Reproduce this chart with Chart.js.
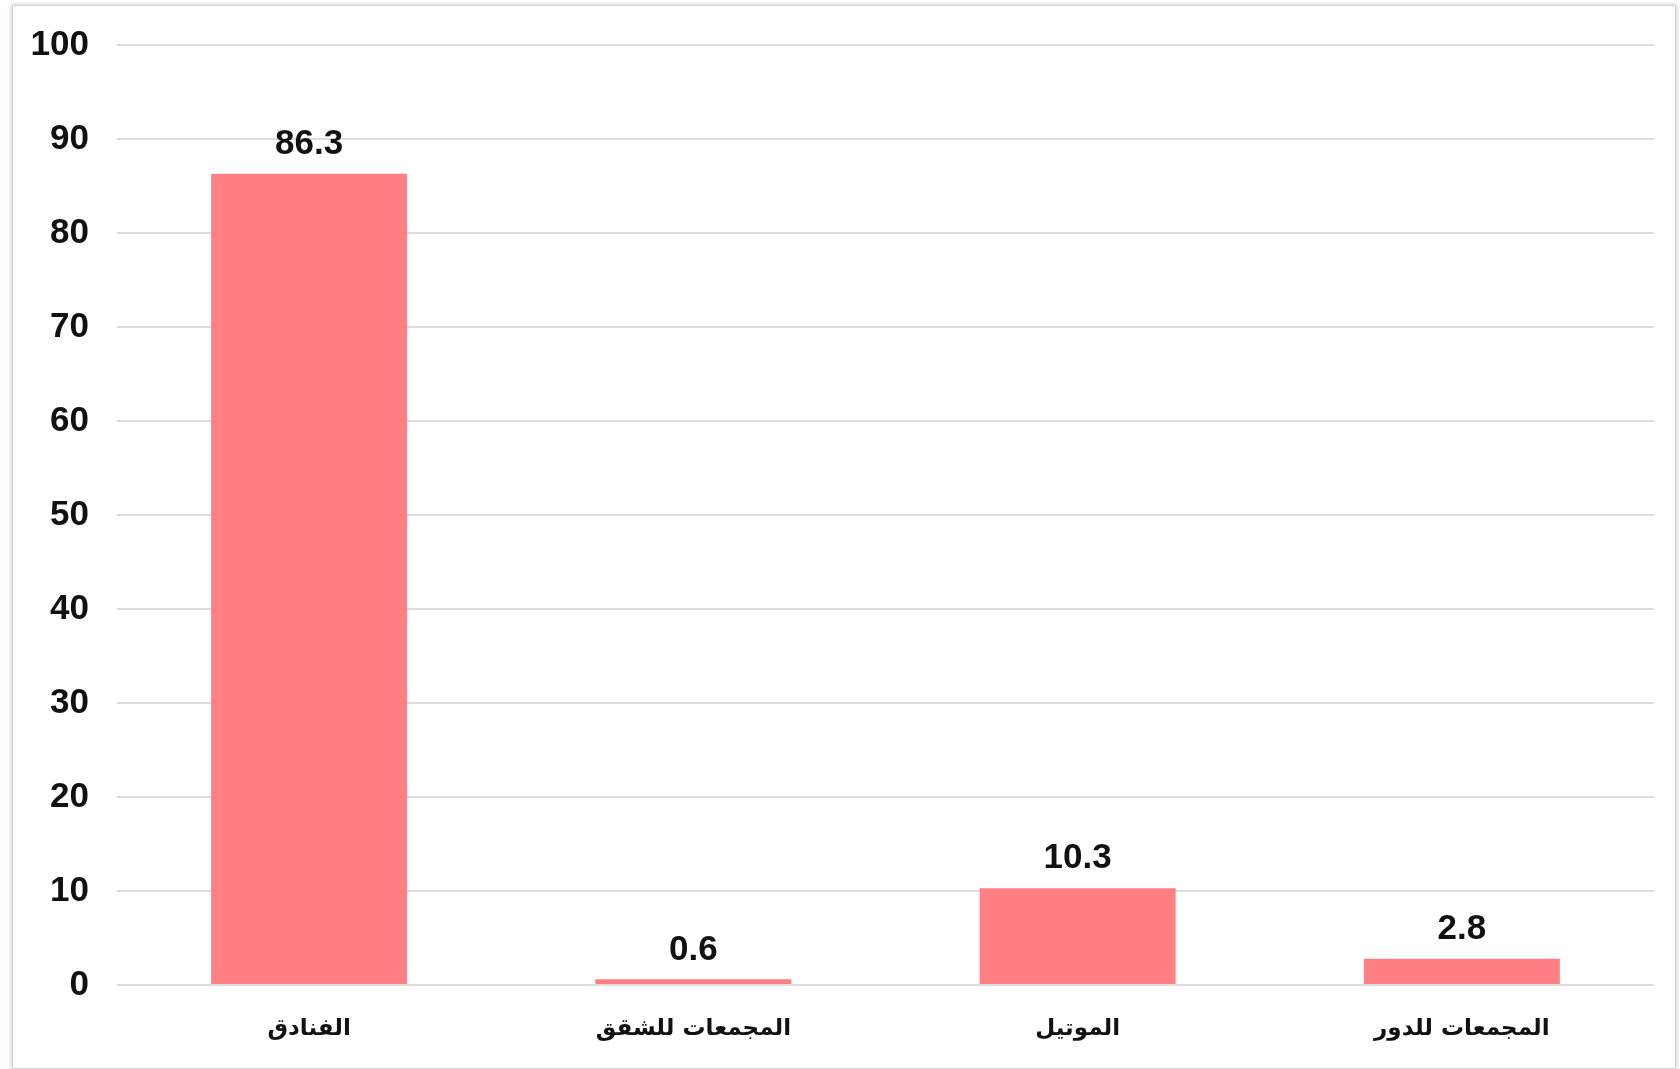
<!DOCTYPE html>
<html>
<head>
<meta charset="utf-8">
<script src="https://cdn.jsdelivr.net/npm/chart.js@4.4.1/dist/chart.umd.min.js"></script>
<style>
  html, body { margin: 0; padding: 0; background: #fff; }
  .frame {
    position: absolute; left: 12px; top: 5px;
    width: 1662px; height: 1062px;
    border: 1px solid #d4d4d4;
    box-shadow: 0 0 5px rgba(0,0,0,0.25);
    background: #fff;
  }
</style>
</head>
<body>
<div class="frame"><canvas id="accChart"></canvas></div>
<script>
// accommodation types (Arabic) and their share (%)
const categories = ['الفنادق', 'المجمعات للشقق', 'الموتيل', 'المجمعات للدور'];
const shares = [86.3, 0.6, 10.3, 2.8];
const yTicks = [0, 10, 20, 30, 40, 50, 60, 70, 80, 90, 100];

const numFont = '"Liberation Sans Narrow", "Arial Narrow", "Liberation Sans", sans-serif';
const arFont = '"DejaVu Sans", "Noto Sans", sans-serif';

// draws the value above each bar
const valueLabels = {
  id: 'valueLabels',
  afterDatasetsDraw(chart) {
    const ctx = chart.ctx;
    const meta = chart.getDatasetMeta(0);
    ctx.save();
    ctx.font = 'bold 35px ' + numFont;
    ctx.fillStyle = '#111';
    ctx.textAlign = 'center';
    ctx.textBaseline = 'bottom';
    meta.data.forEach((bar, i) => {
      ctx.fillText(shares[i].toFixed(1), bar.x, bar.y - 12);
    });
    ctx.restore();
  }
};

new Chart('accChart', {
  type: 'bar',
  data: {
    labels: categories,
    datasets: [{
      data: shares,
      backgroundColor: '#FF7F82',
      borderWidth: 0,
      categoryPercentage: 1.0,
      barPercentage: 0.51
    }]
  },
  options: {
    responsive: true,
    maintainAspectRatio: false,
    animation: false,
    layout: { padding: { top: 39, right: 21, left: 0, bottom: 0 } },
    plugins: {
      legend: { display: false },
      tooltip: { enabled: false }
    },
    scales: {
      x: {
        grid: { display: false, drawTicks: false },
        border: { display: false },
        ticks: {
          padding: 30,
          color: '#111',
          font: { family: arFont, size: 23, weight: 'bold' }
        },
        afterFit(scale) { scale.height = 83; }
      },
      y: {
        min: 0,
        max: 100,
        afterBuildTicks(scale) { scale.ticks = yTicks.map(v => ({ value: v })); },
        grid: { color: '#dcdcdc', lineWidth: 2, drawTicks: false },
        border: { display: false },
        ticks: {
          padding: 28,
          color: '#111',
          font: { family: numFont, size: 35, weight: 'bold' }
        },
        afterFit(scale) {
          scale.width = 104;
          scale.paddingTop = 0;
        }
      }
    }
  },
  plugins: [valueLabels]
});
</script>
</body>
</html>
